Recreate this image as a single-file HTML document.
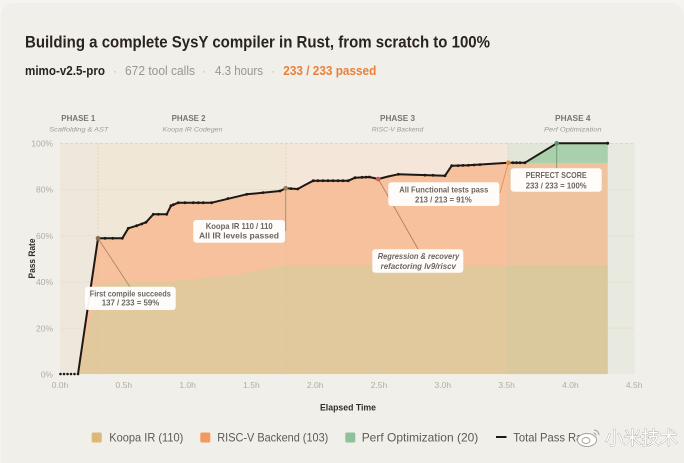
<!DOCTYPE html>
<html><head><meta charset="utf-8"><style>
html,body{margin:0;padding:0;background:#f5f4f1;}
svg{display:block;}
text{font-family:"Liberation Sans","Noto Sans CJK SC",sans-serif;}
</style></head><body>
<svg width="684" height="463" viewBox="0 0 684 463" xmlns="http://www.w3.org/2000/svg">
<rect x="0" y="0" width="684" height="463" fill="#f5f4f1"/>
<rect x="1" y="3" width="683" height="470" rx="12" fill="#f1efea"/>

<!-- Title -->
<text x="25" y="47.5" font-size="17" font-weight="bold" fill="#2a2420" textLength="465" lengthAdjust="spacingAndGlyphs">Building a complete SysY compiler in Rust, from scratch to 100%</text>
<text x="25" y="75" font-size="12.5" font-weight="bold" fill="#2a2420" textLength="80" lengthAdjust="spacingAndGlyphs">mimo-v2.5-pro</text>
<text x="115" y="75" font-size="12" fill="#c0bbb4" text-anchor="middle">·</text>
<text x="125" y="75" font-size="12.5" fill="#9a958e" textLength="70" lengthAdjust="spacingAndGlyphs">672 tool calls</text>
<text x="204" y="75" font-size="12" fill="#c0bbb4" text-anchor="middle">·</text>
<text x="215" y="75" font-size="12.5" fill="#9a958e" textLength="48" lengthAdjust="spacingAndGlyphs">4.3 hours</text>
<text x="273" y="75" font-size="12" fill="#c0bbb4" text-anchor="middle">·</text>
<text x="283.3" y="75" font-size="12.5" font-weight="bold" fill="#e8813a" textLength="93" lengthAdjust="spacingAndGlyphs">233 / 233 passed</text>

<!-- Phase labels -->
<g font-size="8" font-weight="bold" fill="#7a746d" text-anchor="middle">
<text x="78.3" y="121" textLength="34" lengthAdjust="spacingAndGlyphs">PHASE 1</text>
<text x="188.6" y="121" textLength="34" lengthAdjust="spacingAndGlyphs">PHASE 2</text>
<text x="397.5" y="121" textLength="35" lengthAdjust="spacingAndGlyphs">PHASE 3</text>
<text x="572.8" y="121" textLength="35.5" lengthAdjust="spacingAndGlyphs">PHASE 4</text>
</g>
<g font-size="6.8" font-style="italic" fill="#a19b93" text-anchor="middle">
<text x="78.8" y="131.5" textLength="59" lengthAdjust="spacingAndGlyphs">Scaffolding &amp; AST</text>
<text x="192.5" y="131.5" textLength="60" lengthAdjust="spacingAndGlyphs">Koopa IR Codegen</text>
<text x="397.5" y="131.5" textLength="51.5" lengthAdjust="spacingAndGlyphs">RISC-V Backend</text>
<text x="572.8" y="131.5" textLength="57.5" lengthAdjust="spacingAndGlyphs">Perf Optimization</text>
</g>

<!-- Phase backgrounds -->
<rect x="60" y="143.3" width="38" height="231" fill="#eee7db"/>
<rect x="98" y="143.3" width="188" height="231" fill="#f0e7d7"/>
<rect x="286" y="143.3" width="222" height="231" fill="#f4e6d9"/>
<rect x="508" y="143.3" width="126.5" height="231" fill="#e8e9df"/>

<!-- gridlines -->
<g stroke="#e6dfd2" stroke-width="0.8">
<line x1="60" y1="189.6" x2="634.5" y2="189.6"/>
<line x1="60" y1="235.8" x2="634.5" y2="235.8"/>
<line x1="60" y1="282" x2="634.5" y2="282"/>
<line x1="60" y1="328.2" x2="634.5" y2="328.2"/>
</g>
<line x1="60" y1="143.3" x2="634.5" y2="143.3" stroke="#d8d2c8" stroke-width="0.8" stroke-dasharray="3 2"/>

<!-- Peach area (RISC-V) -->
<polygon fill="#f6c19c" points="78,374 98,238.3 122.3,238.3 128.3,228.3 136.7,225.7 146,222.3 153.3,214.3 166.7,214.3 171,205.7 178.3,202.7 211.7,202.7 246.7,194.3 280,191 285.7,188.3 297.7,189 305,185 313.3,180.7 348.3,180.7 355,177.7 369.3,177 378.3,179 388,176.5 398.3,174.3 445,175.7 451.7,165.7 468.3,165.3 508.3,162.7 607.7,162.9 607.7,374"/>
<!-- Green area (Perf) -->
<polygon fill="#a8cfab" points="508.3,162.9 525,162.7 556.7,143.3 607.7,143.3 607.7,162.9"/>
<!-- Tan area (Koopa) -->
<polygon fill="#e1c89d" points="78,374 98,284 130,282 167,281.7 200,278.5 233,275.5 260,270 283,265.5 286,265 607.7,265 607.7,374"/>
<!-- phase 4 tint over areas -->
<rect x="508" y="143.3" width="99.7" height="231" fill="#b8d8b0" opacity="0.12"/>

<!-- phase boundary lines -->
<g stroke="#c9bfae" stroke-width="0.7" stroke-dasharray="1.5 2" opacity="0.8">
<line x1="98" y1="143.3" x2="98" y2="374"/>
<line x1="286" y1="143.3" x2="286" y2="374"/>
<line x1="508" y1="143.3" x2="508" y2="374"/>
</g>

<!-- axis labels -->
<g font-size="8.5" fill="#b3aca1" text-anchor="end">
<text x="53" y="146.5">100%</text>
<text x="53" y="192.7">80%</text>
<text x="53" y="238.9">60%</text>
<text x="53" y="285.1">40%</text>
<text x="53" y="331.3">20%</text>
<text x="53" y="377.5">0%</text>
</g>
<g font-size="8.5" fill="#b3aca1" text-anchor="middle">
<text x="60" y="388">0.0h</text>
<text x="123.8" y="388">0.5h</text>
<text x="187.6" y="388">1.0h</text>
<text x="251.4" y="388">1.5h</text>
<text x="315.2" y="388">2.0h</text>
<text x="379" y="388">2.5h</text>
<text x="442.8" y="388">3.0h</text>
<text x="506.6" y="388">3.5h</text>
<text x="570.4" y="388">4.0h</text>
<text x="634.2" y="388">4.5h</text>
</g>
<text transform="translate(35,258.5) rotate(-90)" font-size="9.5" font-weight="bold" fill="#332d28" text-anchor="middle" textLength="40" lengthAdjust="spacingAndGlyphs">Pass Rate</text>
<text x="348" y="410.5" font-size="9.5" font-weight="bold" fill="#332d28" text-anchor="middle" textLength="56" lengthAdjust="spacingAndGlyphs">Elapsed Time</text>

<!-- connectors -->
<g stroke-width="0.9" fill="none">
<line x1="98" y1="238.3" x2="130" y2="287" stroke="#9a7b5c" opacity="0.8"/>
<line x1="285.7" y1="188.3" x2="285.7" y2="231" stroke="#9a7b5c" opacity="0.8"/>
<line x1="378.3" y1="179" x2="418.3" y2="249.5" stroke="#a8685a" opacity="0.8"/>
<line x1="508.3" y1="162.7" x2="500" y2="193" stroke="#d88a4a" opacity="0.8"/>
<line x1="556.7" y1="143.3" x2="556.7" y2="168.5" stroke="#5f8f68" opacity="0.8"/>
</g>

<!-- Total line -->
<polyline fill="none" stroke="#1e1815" stroke-width="2" stroke-linejoin="round" points="78,374 98,238.3 122.3,238.3 128.3,228.3 136.7,225.7 146,222.3 153.3,214.3 166.7,214.3 171,205.7 178.3,202.7 211.7,202.7 246.7,194.3 280,191 285.7,188.3 297.7,189 305,185 313.3,180.7 348.3,180.7 355,177.7 369.3,177 378.3,179 388,176.5 398.3,174.3 445,175.7 451.7,165.7 468.3,165.3 508.3,162.7 525,162.7 556.7,143.3 607.7,143.3"/>
<g fill="#1e1815">
<circle cx="60.5" cy="374" r="1.3"/><circle cx="64" cy="374" r="1.3"/><circle cx="67.5" cy="374" r="1.3"/><circle cx="71" cy="374" r="1.3"/><circle cx="74.5" cy="374" r="1.3"/><circle cx="78" cy="374" r="1.3"/>
<circle cx="105" cy="238.3" r="1.4"/><circle cx="112.7" cy="238.3" r="1.4"/><circle cx="122.3" cy="238.3" r="1.4"/><circle cx="128.3" cy="228.3" r="1.4"/><circle cx="136.7" cy="225.7" r="1.4"/><circle cx="141.7" cy="224" r="1.4"/><circle cx="146" cy="222.3" r="1.4"/><circle cx="153.3" cy="214.3" r="1.4"/><circle cx="158.3" cy="214.3" r="1.4"/><circle cx="166.7" cy="214.3" r="1.4"/><circle cx="171" cy="205.7" r="1.4"/><circle cx="173.3" cy="204.7" r="1.4"/><circle cx="178.3" cy="202.7" r="1.4"/><circle cx="185" cy="202.7" r="1.4"/><circle cx="193.3" cy="202.7" r="1.4"/><circle cx="198.3" cy="202.7" r="1.4"/><circle cx="203.3" cy="202.7" r="1.4"/><circle cx="211.7" cy="202.7" r="1.4"/>
<circle cx="228" cy="198.5" r="1.4"/><circle cx="246.7" cy="194.3" r="1.4"/><circle cx="263" cy="192.6" r="1.4"/><circle cx="280" cy="191" r="1.4"/><circle cx="291" cy="188.6" r="1.4"/><circle cx="297.7" cy="189" r="1.4"/>
<circle cx="313.3" cy="180.7" r="1.4"/><circle cx="318" cy="180.7" r="1.4"/><circle cx="323" cy="180.7" r="1.4"/><circle cx="328" cy="180.7" r="1.4"/><circle cx="333" cy="180.7" r="1.4"/><circle cx="338" cy="180.7" r="1.4"/><circle cx="343" cy="180.7" r="1.4"/><circle cx="348.3" cy="180.7" r="1.4"/><circle cx="355" cy="177.7" r="1.4"/><circle cx="362" cy="177.3" r="1.4"/><circle cx="366" cy="177.1" r="1.4"/><circle cx="369.3" cy="177" r="1.4"/>
<circle cx="398.3" cy="174.3" r="1.4"/><circle cx="425" cy="175.1" r="1.4"/><circle cx="433" cy="175.3" r="1.4"/><circle cx="445" cy="175.7" r="1.4"/><circle cx="451.7" cy="165.7" r="1.4"/><circle cx="458" cy="165.6" r="1.4"/><circle cx="463" cy="165.4" r="1.4"/><circle cx="468.3" cy="165.3" r="1.4"/><circle cx="474" cy="165" r="1.4"/><circle cx="480" cy="164.6" r="1.4"/>
<circle cx="513" cy="162.7" r="1.4"/><circle cx="516.5" cy="162.7" r="1.4"/><circle cx="520" cy="162.7" r="1.4"/><circle cx="525" cy="162.7" r="1.4"/><circle cx="607.7" cy="143.3" r="1.5"/>
</g>
<!-- highlight markers -->
<circle cx="98" cy="238.3" r="2.3" fill="#8a6d50"/>
<circle cx="285.7" cy="188.3" r="2.3" fill="#9a7b5c"/>
<circle cx="378.3" cy="179" r="2.3" fill="#d25a4e"/>
<circle cx="508.3" cy="162.7" r="2.3" fill="#e08a40"/>
<circle cx="556.7" cy="143.3" r="2.3" fill="#5a9468"/>

<!-- annotation boxes -->
<g fill="#ffffff" opacity="0.95">
<rect x="85" y="286.7" width="90.7" height="23.3" rx="3"/>
<rect x="193.3" y="220" width="91.7" height="22.7" rx="3"/>
<rect x="388.3" y="182.3" width="111" height="23.7" rx="3"/>
<rect x="372.3" y="249.3" width="91" height="23.4" rx="3"/>
<rect x="510.7" y="168.3" width="91" height="23.4" rx="3"/>
</g>
<g font-size="8.3" font-weight="bold" fill="#6b6560" text-anchor="middle">
<text x="130.3" y="296.3" textLength="81" lengthAdjust="spacingAndGlyphs">First compile succeeds</text>
<text x="130.5" y="305.7" textLength="57.6" lengthAdjust="spacingAndGlyphs">137 / 233 = 59%</text>
<text x="239.2" y="229" textLength="67" lengthAdjust="spacingAndGlyphs">Koopa IR 110 / 110</text>
<text x="239" y="238.7" textLength="80" lengthAdjust="spacingAndGlyphs">All IR levels passed</text>
<text x="443.8" y="192.3" textLength="89" lengthAdjust="spacingAndGlyphs">All Functional tests pass</text>
<text x="443.4" y="202.3" textLength="56.7" lengthAdjust="spacingAndGlyphs">213 / 213 = 91%</text>
<text x="556.2" y="178" textLength="61" lengthAdjust="spacingAndGlyphs">PERFECT SCORE</text>
<text x="556.2" y="188.3" textLength="61" lengthAdjust="spacingAndGlyphs">233 / 233 = 100%</text>
</g>
<g font-size="8.3" font-weight="bold" font-style="italic" fill="#6b6560" text-anchor="middle">
<text x="418.5" y="259" textLength="81.6" lengthAdjust="spacingAndGlyphs">Regression &amp; recovery</text>
<text x="418.3" y="269" textLength="75.3" lengthAdjust="spacingAndGlyphs">refactoring lv9/riscv</text>
</g>

<!-- Legend -->
<rect x="91.7" y="432.5" width="10" height="10" rx="1.5" fill="#dcb877"/>
<text x="109.3" y="441.6" font-size="12" fill="#5f5953" textLength="74" lengthAdjust="spacingAndGlyphs">Koopa IR (110)</text>
<rect x="200.3" y="432.5" width="10" height="10" rx="1.5" fill="#f4995c"/>
<text x="217.3" y="441.6" font-size="12" fill="#5f5953" textLength="111" lengthAdjust="spacingAndGlyphs">RISC-V Backend (103)</text>
<rect x="345.3" y="432.5" width="10" height="10" rx="1.5" fill="#8fc19c"/>
<text x="361.7" y="441.6" font-size="12" fill="#5f5953" textLength="116.6" lengthAdjust="spacingAndGlyphs">Perf Optimization (20)</text>
<rect x="496" y="436" width="10.5" height="2" fill="#1e1815"/>
<text x="513.3" y="441.6" font-size="12" fill="#5f5953" textLength="78.4" lengthAdjust="spacingAndGlyphs">Total Pass Rate</text>

<!-- watermark -->
<g>
<ellipse cx="587" cy="440" rx="9.5" ry="6.5" fill="#ffffff" stroke="#a5a29d" stroke-width="1"/>
<ellipse cx="586" cy="440.5" rx="4" ry="3" fill="none" stroke="#a5a29d" stroke-width="1"/>
<path d="M594,430 a5,5 0 0 1 5,5" fill="none" stroke="#a5a29d" stroke-width="1"/>
<path d="M593.5,433 a2.5,2.5 0 0 1 2.5,2.5" fill="none" stroke="#a5a29d" stroke-width="1"/>
<text x="605" y="444.5" font-size="18" fill="#ffffff" stroke="#a09d98" stroke-width="0.7" paint-order="stroke" font-family="'Noto Sans CJK SC',sans-serif" textLength="73" lengthAdjust="spacingAndGlyphs">小米技术</text>
</g>
</svg>
</body></html>
